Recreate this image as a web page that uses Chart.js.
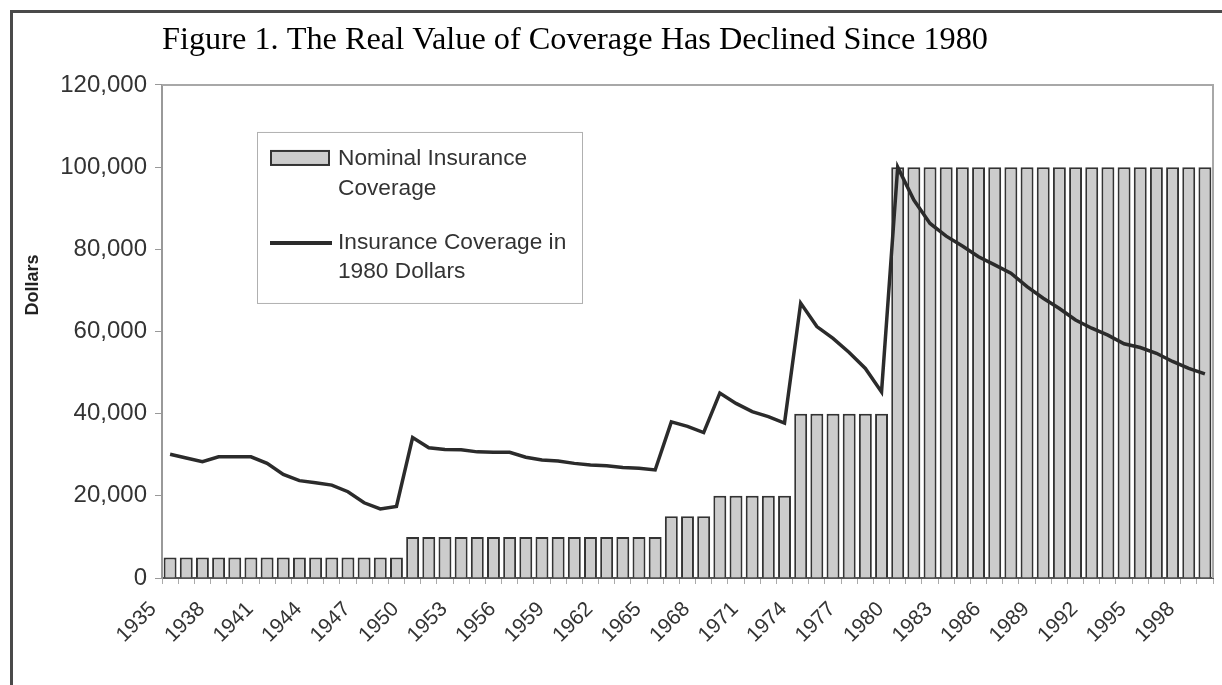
<!DOCTYPE html>
<html>
<head>
<meta charset="utf-8">
<script src="https://cdn.jsdelivr.net/npm/chart.js@4.4.1/dist/chart.umd.min.js"></script>
<style>
  html, body { margin: 0; padding: 0; background: #fff; overflow: hidden; }
  #frame { position: absolute; left: 10px; top: 10px; width: 1400px; height: 900px;
           border: 3px solid #4a4a4a; box-sizing: border-box; }
  #wrap { position: absolute; left: 0; top: 0; width: 1222px; height: 685px; }
</style>
</head>
<body>
<div id="frame"></div>
<div id="wrap"><canvas id="chart"></canvas></div>
<script>
  // years on the category axis
  const YEARS = [
    '1935','1936','1937','1938','1939','1940','1941','1942','1943','1944',
    '1945','1946','1947','1948','1949','1950','1951','1952','1953','1954',
    '1955','1956','1957','1958','1959','1960','1961','1962','1963','1964',
    '1965','1966','1967','1968','1969','1970','1971','1972','1973','1974',
    '1975','1976','1977','1978','1979','1980','1981','1982','1983','1984',
    '1985','1986','1987','1988','1989','1990','1991','1992','1993','1994',
    '1995','1996','1997','1998','1999'
  ];

  // nominal coverage limit (bars)
  const NOMINAL = [
    5000, 5000, 5000, 5000, 5000, 5000, 5000, 5000, 5000, 5000,
    5000, 5000, 5000, 5000, 5000, 10000, 10000, 10000, 10000, 10000,
    10000, 10000, 10000, 10000, 10000, 10000, 10000, 10000, 10000, 10000,
    10000, 15000, 15000, 15000, 20000, 20000, 20000, 20000, 20000, 40000,
    40000, 40000, 40000, 40000, 40000, 100000, 100000, 100000, 100000, 100000,
    100000, 100000, 100000, 100000, 100000, 100000, 100000, 100000, 100000, 100000,
    100000, 100000, 100000, 100000, 100000
  ];

  // coverage in 1980 dollars (line)
  const REAL_1980 = [
    30100, 29200, 28300, 29500, 29500, 29500, 27900, 25200, 23700, 23200,
    22600, 21000, 18300, 16800, 17400, 34200, 31700, 31300, 31200, 30700,
    30600, 30600, 29400, 28700, 28500, 27900, 27500, 27300, 26900, 26700,
    26300, 38000, 36900, 35400, 45000, 42500, 40500, 39300, 37700, 66900,
    61200, 58300, 54900, 51000, 45300, 100000, 92000, 86300, 83200, 80800,
    78200, 76200, 74200, 70900, 68100, 65600, 62800, 60800, 59100, 57000,
    56100, 54700, 52700, 51000, 49700
  ];

  const Y_TICKS = [0, 20000, 40000, 60000, 80000, 100000, 120000];
  const LEGEND_BAR_LINES  = ['Nominal Insurance', 'Coverage'];
  const LEGEND_LINE_LINES = ['Insurance Coverage in', '1980 Dollars'];

  const BAR_FILL = '#cccccc';
  const INK = '#2b2b2b';
  const SANS = '"Liberation Sans", Arial, sans-serif';

  Chart.defaults.font.family = SANS;
  Chart.defaults.color = '#333';

  // grey top + right edge of the plot area
  const plotFrame = {
    id: 'plotFrame',
    beforeDatasetsDraw(chart) {
      const { ctx, chartArea: a } = chart;
      ctx.save();
      ctx.strokeStyle = '#a8a8a8';
      ctx.lineWidth = 2;
      ctx.beginPath();
      ctx.moveTo(a.left, a.top);
      ctx.lineTo(a.right, a.top);
      ctx.lineTo(a.right, a.bottom);
      ctx.stroke();
      ctx.restore();
    }
  };

  // "Dollars" sits above the middle of the axis in the original, so draw it here
  const axisLabel = {
    id: 'axisLabel',
    afterDraw(chart, args, opts) {
      const { ctx } = chart;
      ctx.save();
      ctx.translate(opts.x, opts.y);
      ctx.rotate(-Math.PI / 2);
      ctx.fillStyle = '#222';
      ctx.font = 'bold 18px ' + SANS;
      ctx.textAlign = 'center';
      ctx.textBaseline = 'middle';
      ctx.fillText(opts.text, 0, 0);
      ctx.restore();
    }
  };

  // boxed legend sitting inside the plot, two-line labels
  const boxLegend = {
    id: 'boxLegend',
    afterDraw(chart, args, opts) {
      const { ctx, chartArea: a } = chart;
      const x = a.left + opts.x, y = a.top + opts.y;
      const bar = chart.data.datasets[0], line = chart.data.datasets[1];
      ctx.save();
      ctx.fillStyle = '#fff';
      ctx.fillRect(x, y, opts.w, opts.h);
      ctx.strokeStyle = '#b0b0b0';
      ctx.lineWidth = 1;
      ctx.strokeRect(x + 0.5, y + 0.5, opts.w, opts.h);

      // bar swatch
      ctx.fillStyle = bar.backgroundColor;
      ctx.fillRect(x + 13, y + 18, 60, 16);
      ctx.strokeStyle = bar.borderColor;
      ctx.lineWidth = 2;
      ctx.strokeRect(x + 14, y + 19, 58, 14);

      // line swatch
      ctx.strokeStyle = line.borderColor;
      ctx.lineWidth = 4;
      ctx.beginPath();
      ctx.moveTo(x + 13, y + 111);
      ctx.lineTo(x + 75, y + 111);
      ctx.stroke();

      ctx.fillStyle = '#333';
      ctx.font = '22.7px ' + SANS;
      ctx.textBaseline = 'middle';
      ctx.textAlign = 'left';
      opts.barLines.forEach((t, i) => ctx.fillText(t, x + 81, y + 27 + i * 30));
      opts.lineLines.forEach((t, i) => ctx.fillText(t, x + 81, y + 111 + i * 29));
      ctx.restore();
    }
  };

  new Chart(document.getElementById('chart'), {
    type: 'bar',
    data: {
      labels: YEARS,
      datasets: [
        {
          label: LEGEND_BAR_LINES.join(' '),
          data: NOMINAL,
          backgroundColor: BAR_FILL,
          borderColor: '#333',
          borderWidth: 2,
          barPercentage: 0.8,
          categoryPercentage: 1.0,
          order: 2
        },
        {
          type: 'line',
          label: LEGEND_LINE_LINES.join(' '),
          data: REAL_1980,
          borderColor: INK,
          borderWidth: 3.5,
          pointRadius: 0,
          tension: 0,
          fill: false,
          order: 1
        }
      ]
    },
    options: {
      responsive: true,
      maintainAspectRatio: false,
      animation: false,
      layout: { padding: { left: 10, right: 9, top: 10, bottom: 0 } },
      plugins: {
        legend: { display: false },
        tooltip: { enabled: false },
        title: {
          display: true,
          text: 'Figure 1. The Real Value of Coverage Has Declined Since 1980',
          align: 'start',
          fullSize: false,
          color: '#000',
          font: { family: '"Liberation Serif", "Times New Roman", serif', size: 32.3, weight: 'normal', lineHeight: 1.2 },
          padding: { top: 11, bottom: 25.2 }
        },
        axisLabel: { text: 'Dollars', x: 33, y: 285 },
        boxLegend: {
          x: 95, y: 47, w: 325, h: 171,
          barLines: LEGEND_BAR_LINES,
          lineLines: LEGEND_LINE_LINES
        }
      },
      scales: {
        x: {
          ticks: {
            autoSkip: false,
            minRotation: 45,
            maxRotation: 45,
            color: '#333',
            font: { size: 21 },
            padding: 13,
            labelOffset: -17,
            callback: function (v, i) { return i % 3 === 0 ? this.getLabelForValue(v) : ''; }
          },
          grid: { drawOnChartArea: false, tickLength: 6, color: '#aaa', offset: true },
          border: { color: '#555', width: 2 },
          afterFit: s => { s.height = 107; s.paddingLeft = 0; s.paddingRight = 0; }
        },
        y: {
          min: 0,
          max: 120000,
          afterBuildTicks: s => { s.ticks = Y_TICKS.map(v => ({ value: v })); },
          ticks: {
            color: '#333',
            font: { size: 24 },
            padding: 8,
            callback: v => v.toLocaleString('en-US')
          },
          grid: { drawOnChartArea: false, tickLength: 7, color: '#999' },
          border: { color: '#999', width: 2 },
          afterFit: s => { s.width = 152; }
        }
      }
    },
    plugins: [plotFrame, axisLabel, boxLegend]
  });
</script>
</body>
</html>
